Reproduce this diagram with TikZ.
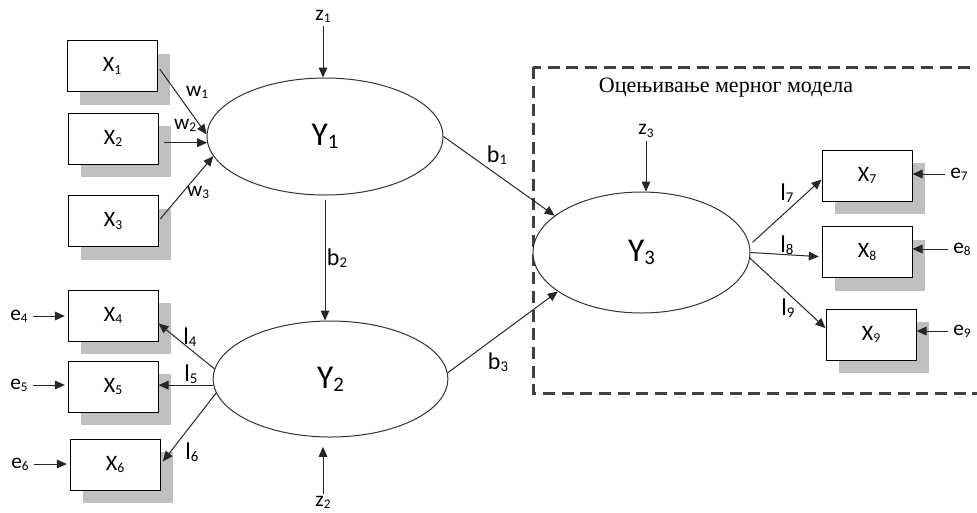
\documentclass[tikz,border=0pt]{standalone}
\usepackage{fontspec}
\setmainfont{Carlito}
\newfontfamily\titlefont{Liberation Serif}
\usetikzlibrary{shapes.geometric,arrows.meta,shadows}
\newcommand\sbs[1]{\raisebox{-0.1em}{\scalebox{0.62}{#1}}}

\begin{document}
\begin{tikzpicture}[x=0.75pt, y=-0.75pt,
    ind/.style={draw=black, line width=0.75pt, fill=white, minimum width=67.5pt, minimum height=38.25pt,
      inner sep=0pt, font=\fontsize{16.5}{18}\selectfont,
      drop shadow={shadow xshift=9.75pt, shadow yshift=-9.75pt, fill=black!25, opacity=1}},
    lat/.style={ellipse, draw=black!80, line width=0.75pt, fill=white, inner sep=0pt,
      font=\fontsize{25}{28}\selectfont},
    lbl/.style={font=\fontsize{16}{18}\selectfont, inner sep=1pt},
    blbl/.style={font=\fontsize{18}{20}\selectfont, inner sep=1pt},
    arr/.style={-{Triangle[length=7.5pt,width=6.5pt]}, line width=0.75pt, black!85},
    dashbox/.style={black!75, line width=2.25pt, dash pattern=on 9pt off 5pt}]
  \clip (0,0) rectangle (977,512);
  % Merni model (okvir)
  \draw[dashbox] (533,67) rectangle (995,393);
  \node[font=\titlefont\fontsize{16.5}{18}\selectfont] (ttl) at (726,88) {Оцењивање мерног модела};
  % Latentne
  \node[lat, minimum width=177pt, minimum height=87.75pt] (y1) at (325,136.5) {Y\sbs{1}};
  \node[lat, minimum width=176pt, minimum height=87pt] (y2) at (330.5,379) {Y\sbs{2}};
  \node[lat, minimum width=162.75pt, minimum height=90.75pt] (y3) at (641.5,252.5) {Y\sbs{3}};
  % Indikatori
  \node[ind] (x1) at (112,66) {X\sbs{1}};
  \node[ind] (x2) at (113,138.5) {X\sbs{2}};
  \node[ind] (x3) at (113,221) {X\sbs{3}};
  \node[ind] (x4) at (113,315.5) {X\sbs{4}};
  \node[ind] (x5) at (113,386.5) {X\sbs{5}};
  \node[ind] (x6) at (115,464.5) {X\sbs{6}};
  \node[ind] (x7) at (867,175.5) {X\sbs{7}};
  \node[ind] (x8) at (867,252) {X\sbs{8}};
  \node[ind] (x9) at (871,334.5) {X\sbs{9}};
  % Greske i smetnje
  \node[lbl] (z1) at (323,16) {z\sbs{1}};
  \node[lbl] (z2) at (323,502) {z\sbs{2}};
  \node[lbl] (z3) at (646,131) {z\sbs{3}};
  \foreach \i/\x/\y in {4/19/316, 5/19/385, 6/20/464, 7/959/174, 8/962/249, 9/962/331}
    \node[lbl] (e\i) at (\x,\y) {e\sbs{\i}};
  % Koeficijenti
  \node[lbl] (w1) at (197,92) {w\sbs{1}};
  \node[lbl] (w2) at (185,125) {w\sbs{2}};
  \node[lbl] (w3) at (198,192) {w\sbs{3}};
  \node[blbl] (b1) at (497,155) {b\sbs{1}};
  \node[blbl] (b2) at (337,258) {b\sbs{2}};
  \node[blbl] (b3) at (498,362) {b\sbs{3}};
  \node[blbl] (l4) at (190,337) {l\sbs{4}};
  \node[blbl] (l5) at (191,374) {l\sbs{5}};
  \node[blbl] (l6) at (192,452) {l\sbs{6}};
  \node[blbl] (l7) at (787,193) {l\sbs{7}};
  \node[blbl] (l8) at (787,245) {l\sbs{8}};
  \node[blbl] (l9) at (788,308) {l\sbs{9}};
  % Strelice
  \draw[arr, shorten <=3pt] (x1.east) -- (y1.179);
  \draw[arr, shorten <=4pt] (x2.east |- y1.183) -- (y1.183);
  \draw[arr, shorten <=2pt] (x3.east) -- (y1.190);
  \draw[arr, shorten <=2pt] (z1.south) -- (z1.south |- y1.north);
  \draw[arr, shorten <=3pt] (y1.south) -- (y1.south |- y2.north);
  \draw[arr, shorten >=7pt] (z2.north) -- (z2.north |- y2.south);
  \draw[arr, shorten <=2pt] (z3.south) -- (z3.south |- y3.north);
  \draw[arr] (y2.175) -- (x4.-10);
  \draw[arr] (y2.183) -- (y2.183 -| x5.east);
  \draw[arr, shorten >=3pt] (y2.187) -- (x6.east);
  \draw[arr] (y1.east) -- (y3.157);
  \draw[arr] (y2.3) -- (y3.205);
  \draw[arr, shorten <=3pt] (y3.4) -- (x7.185);
  \draw[arr, shorten >=2pt] (y3.east) -- (x8.186);
  \draw[arr] (y3.357) -- (x9.172);
  \foreach \i in {4,5,6}
    \draw[arr, shorten <=3pt, shorten >=2pt] (e\i.east) -- (e\i.east -| x\i.west);
  \foreach \i in {7,8,9}
    \draw[arr, shorten <=3pt] (e\i.west) -- (e\i.west -| x\i.east);
\end{tikzpicture}
\end{document}
